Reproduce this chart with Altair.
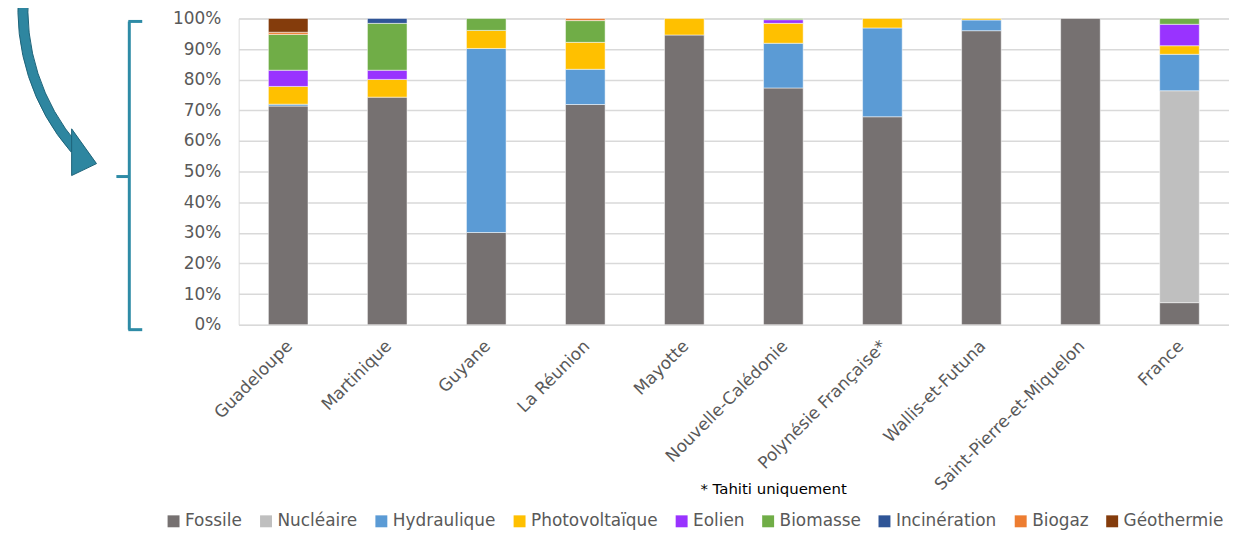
import altair as alt
import pandas as pd

countries = ["Guadeloupe", "Martinique", "Guyane", "La Réunion", "Mayotte",
             "Nouvelle-Calédonie", "Polynésie Française*", "Wallis-et-Futuna",
             "Saint-Pierre-et-Miquelon", "France"]
sources = ["Fossile", "Nucléaire", "Hydraulique", "Photovoltaïque", "Eolien",
           "Biomasse", "Incinération", "Biogaz", "Géothermie"]
colors = ["#767171", "#BFBFBF", "#5B9BD5", "#FFC000", "#9933FF",
          "#70AD47", "#2F5597", "#ED7D31", "#843C0C"]

fossile = [71.4, 74.3, 30.1, 71.9, 94.6, 77.3, 67.9, 96.0, 100.0, 7.2]
nucleaire = [0, 0, 0, 0, 0, 0, 0, 0, 0, 69.2]
hydraulique = [0.6, 0, 60.1, 11.5, 0, 14.6, 29.0, 3.5, 0, 11.9]
photovoltaique = [5.8, 5.8, 5.9, 8.8, 5.4, 6.5, 3.1, 0.5, 0, 2.8]
eolien = [5.3, 3.0, 0, 0, 0, 1.2, 0, 0, 0, 7.0]
biomasse = [11.7, 15.3, 3.9, 7.1, 0, 0.4, 0, 0, 0, 1.9]
incineration = [0, 1.6, 0, 0, 0, 0, 0, 0, 0, 0]
biogaz = [0.7, 0, 0, 0.7, 0, 0, 0, 0, 0, 0]
geothermie = [4.5, 0, 0, 0, 0, 0, 0, 0, 0, 0]

series = [fossile, nucleaire, hydraulique, photovoltaique, eolien,
          biomasse, incineration, biogaz, geothermie]

rows = []
for si, (src, vals) in enumerate(zip(sources, series)):
    for c, v in zip(countries, vals):
        if v > 0:
            rows.append({"pays": c, "source": src, "ordre": si, "part": v / 100.0})
df = pd.DataFrame(rows)

FONT = "DejaVu Sans"
TEAL = "#2E8BA6"

bars = alt.Chart(df).mark_bar(stroke="#FFFFFF", strokeWidth=1, strokeOpacity=0.5).encode(
    x=alt.X("pays:N", sort=countries, title=None,
            scale=alt.Scale(paddingInner=0.6, paddingOuter=0.3),
            axis=alt.Axis(labelAngle=-45, labelFontSize=17, labelColor="#595959",
                          labelFont=FONT, ticks=False, domain=False, labelPadding=13,
                          labelOffset=-4, labelLimit=400)),
    y=alt.Y("part:Q", stack="zero", title=None,
            scale=alt.Scale(domain=[0, 1], nice=False),
            axis=alt.Axis(format=".0%", values=[i / 10 for i in range(11)],
                          labelFontSize=17, labelColor="#595959", labelFont=FONT,
                          ticks=False, domain=False, labelPadding=18,
                          gridColor="#D9D9D9", gridWidth=1.5)),
    color=alt.Color("source:N", title=None,
                    scale=alt.Scale(domain=sources, range=colors),
                    legend=alt.Legend(orient="none", legendX=-74, legendY=497,
                                      direction="horizontal", columns=9,
                                      symbolType="square", symbolSize=144,
                                      symbolStrokeWidth=0, labelFontSize=17,
                                      labelFont=FONT, labelColor="#595959",
                                      labelOffset=3, columnPadding=15,
                                      labelLimit=300)),
    order=alt.Order("ordre:Q", sort="ascending"),
)

one = pd.DataFrame({"k": [0]})

note = alt.Chart(one).mark_text(text="* Tahiti uniquement", font=FONT, fontSize=15,
                                color="#000000", align="center", baseline="middle").encode(
    x=alt.value(538), y=alt.value(473))

bracket_v = alt.Chart(one).mark_rule(color=TEAL, strokeWidth=3).encode(
    x=alt.value(-110), y=alt.value(3), y2=alt.value(313))
bracket_top = alt.Chart(one).mark_rule(color=TEAL, strokeWidth=3).encode(
    x=alt.value(-111), x2=alt.value(-97), y=alt.value(3))
bracket_bot = alt.Chart(one).mark_rule(color=TEAL, strokeWidth=3).encode(
    x=alt.value(-111), x2=alt.value(-97), y=alt.value(313))
bracket_mid = alt.Chart(one).mark_rule(color=TEAL, strokeWidth=3).encode(
    x=alt.value(-123), x2=alt.value(-110), y=alt.value(159))

arc = alt.Chart(one).mark_arc(theta=4.00, theta2=4.80, radius=209, radius2=219,
                              fill="#2E86A0", stroke="#1D6379", strokeWidth=1).encode(
    x=alt.value(-3), y=alt.value(-9))

head = alt.Chart(one).mark_point(
    shape="M-0.32,-1.08 L0.68,0.32 L-0.32,0.8 Z", filled=True, size=2500,
    fill="#2E86A0", stroke="#1D6379", strokeWidth=1, opacity=1).encode(
    x=alt.value(-160), y=alt.value(138))

chart = alt.layer(bars, note, bracket_v, bracket_top, bracket_bot, bracket_mid,
                  arc, head).properties(
    width=996, height=308,
    autosize=alt.AutoSizeParams(type="none"),
    padding={"left": 232, "top": 9, "right": 0, "bottom": 210},
).configure_view(stroke=None).configure(background="#FFFFFF")

chart.save("out.html", embed_options={"renderer": "svg", "actions": False})
